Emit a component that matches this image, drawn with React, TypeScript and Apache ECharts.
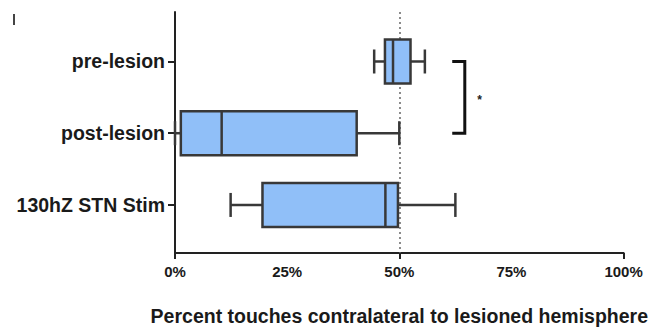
import React, { useEffect, useRef } from "react";
import * as echarts from "echarts";

const categories = ["pre-lesion", "post-lesion", "130hZ STN Stim"];
const minVals = [44.4, 0, 12.4];
const q1Vals = [46.8, 1.3, 19.5];
const medianVals = [48.6, 10.4, 46.9];
const q3Vals = [52.5, 40.5, 49.7];
const maxVals = [55.7, 50.0, 62.5];
const xTicks = [0, 25, 50, 75, 100];
const referenceLine = 50;
const bracketFrom = 1; // pre-lesion
const bracketTo = 2; // post-lesion
const bracketArmX = 61.8;
const bracketBarX = 64.6;
const starX = 67.9;
const starLabel = "*";

const FONT = "'Liberation Sans', Arial, Helvetica, sans-serif";

export default function App() {
  const ref = useRef<HTMLDivElement>(null);
  useEffect(() => {
    if (!ref.current) return;
    const chart = echarts.init(ref.current, undefined, { renderer: "svg" });
    const boxData = categories.map((_, i) => [
      i + 1,
      minVals[i],
      q1Vals[i],
      medianVals[i],
      q3Vals[i],
      maxVals[i],
    ]);
    const stroke = "#383838";
    const option: any = {
      animation: false,
      backgroundColor: "#ffffff",
      grid: { left: 175, right: 27, top: 12, bottom: 78 },
      xAxis: {
        type: "value",
        min: 0,
        max: 100,
        interval: 25,
        name: "Percent touches contralateral to lesioned hemisphere",
        nameLocation: "middle",
        nameGap: 53,
        nameTextStyle: {
          fontFamily: FONT,
          fontWeight: "bold",
          fontSize: 19.5,
          color: "#1a1a1a",
        },
        axisLine: { show: true, lineStyle: { color: "#222", width: 2 } },
        axisTick: {
          show: true,
          customValues: [0, 50, 100],
          length: 6,
          lineStyle: { color: "#222", width: 2 },
        },
        axisLabel: {
          customValues: xTicks,
          formatter: "{value}%",
          margin: 11,
          fontFamily: FONT,
          fontWeight: "bold",
          fontSize: 15,
          color: "#1a1a1a",
        },
        splitLine: { show: false },
      },
      yAxis: {
        type: "value",
        inverse: true,
        min: 0.31,
        max: 3.67,
        axisLine: { show: true, lineStyle: { color: "#222", width: 2 } },
        axisTick: {
          show: true,
          customValues: [1, 2, 3],
          length: 7,
          lineStyle: { color: "#222", width: 2 },
        },
        axisLabel: {
          customValues: [1, 2, 3],
          formatter: (v: number) => categories[Math.round(v) - 1] ?? "",
          margin: 10,
          fontFamily: FONT,
          fontWeight: "bold",
          fontSize: 19.5,
          color: "#1a1a1a",
        },
        splitLine: { show: false },
      },
      graphic: [
        {
          type: "rect",
          shape: { x: 13, y: 14, width: 2, height: 11 },
          style: { fill: "#444" },
        },
      ],
      series: [
        {
          type: "line",
          data: [],
          z: 1,
          markLine: {
            silent: true,
            symbol: "none",
            label: { show: false },
            lineStyle: { color: "#666", type: [2, 3], width: 1.5 },
            data: [{ xAxis: referenceLine }],
          },
        },
        {
          type: "custom",
          z: 5,
          data: boxData,
          encode: { x: [1, 2, 3, 4, 5], y: 0 },
          renderItem: (params: any, api: any) => {
            const y = api.value(0);
            const pMin = api.coord([api.value(1), y]);
            const pQ1 = api.coord([api.value(2), y]);
            const pMed = api.coord([api.value(3), y]);
            const pQ3 = api.coord([api.value(4), y]);
            const pMax = api.coord([api.value(5), y]);
            const cy = pMin[1];
            const bh = 22;
            const ch = 12;
            const lw = 2.5;
            const ls = { stroke, lineWidth: lw };
            return {
              type: "group",
              children: [
                { type: "line", shape: { x1: pMin[0], y1: cy, x2: pQ1[0], y2: cy }, style: ls },
                { type: "line", shape: { x1: pQ3[0], y1: cy, x2: pMax[0], y2: cy }, style: ls },
                { type: "line", shape: { x1: pMin[0], y1: cy - ch, x2: pMin[0], y2: cy + ch }, style: ls },
                { type: "line", shape: { x1: pMax[0], y1: cy - ch, x2: pMax[0], y2: cy + ch }, style: ls },
                {
                  type: "rect",
                  shape: { x: pQ1[0], y: cy - bh, width: pQ3[0] - pQ1[0], height: bh * 2 },
                  style: { fill: "#90bff8", stroke, lineWidth: lw },
                },
                { type: "line", shape: { x1: pMed[0], y1: cy - bh, x2: pMed[0], y2: cy + bh }, style: ls },
              ],
            };
          },
        },
        {
          type: "custom",
          z: 5,
          data: [[bracketFrom, bracketTo, bracketArmX, bracketBarX, starX]],
          encode: { x: [2, 3, 4], y: [0, 1] },
          renderItem: (params: any, api: any) => {
            const from = api.value(0);
            const to = api.value(1);
            const a1 = api.coord([api.value(2), from]);
            const b1 = api.coord([api.value(3), from]);
            const b2 = api.coord([api.value(3), to]);
            const a2 = api.coord([api.value(2), to]);
            const s = api.coord([api.value(4), (from + to) / 2]);
            return {
              type: "group",
              children: [
                {
                  type: "polyline",
                  shape: { points: [a1, b1, b2, a2] },
                  style: { stroke: "#111", lineWidth: 3, fill: "none" },
                },
                {
                  type: "text",
                  x: s[0],
                  y: s[1] + 3,
                  style: {
                    text: starLabel,
                    fill: "#222",
                    font: `bold 12px ${FONT}`,
                    align: "center",
                    verticalAlign: "middle",
                  },
                },
              ],
            };
          },
        },
      ],
    };
    chart.setOption(option);
    return () => chart.dispose();
  }, []);
  return (
    <div
      ref={ref}
      style={{ position: "fixed", left: 0, top: 0, width: 651, height: 331 }}
    />
  );
}
